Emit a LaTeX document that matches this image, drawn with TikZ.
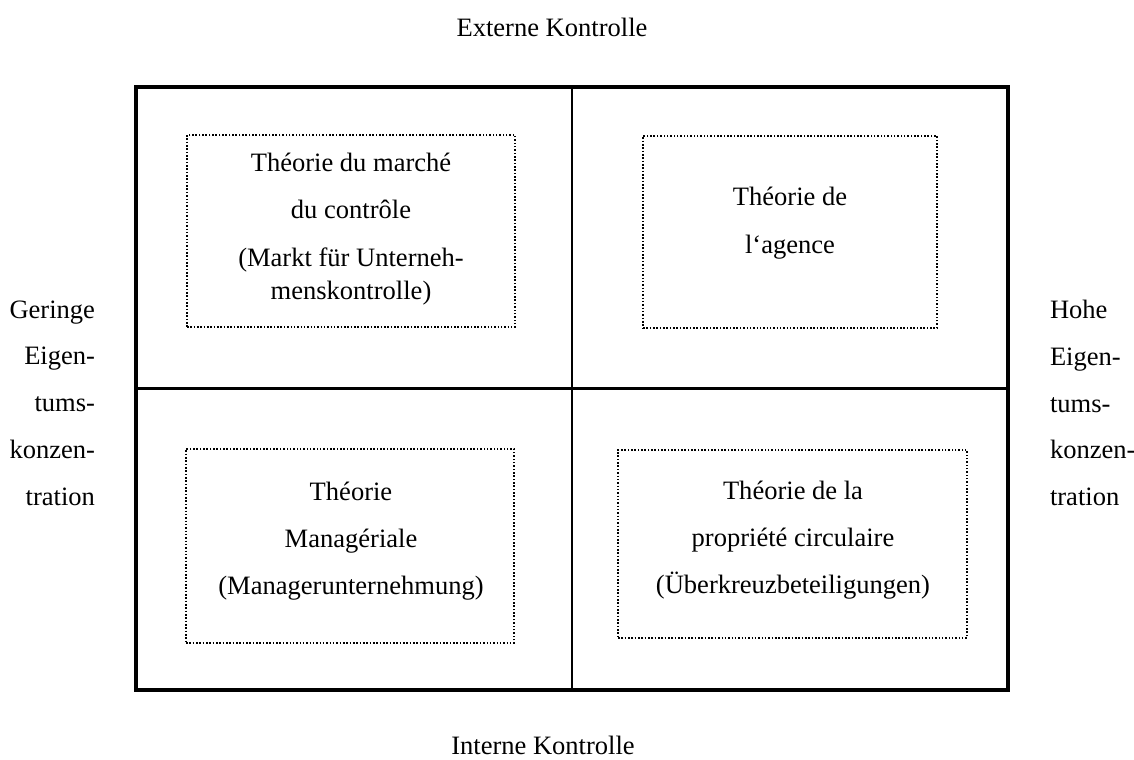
\documentclass[tikz,border=0pt]{standalone}
\usepackage{fontspec}
\setmainfont{Liberation Serif}
\usetikzlibrary{positioning}

\begin{document}
\begin{tikzpicture}[
    x=0.2mm, y=0.2mm,
    every node/.style={font=\fontsize{15.1pt}{26.6pt}\selectfont},
    framebox/.style={
        draw=black, line width=2.8pt, outer sep=0pt, inner sep=0pt,
        minimum width=174.4mm, minimum height=120.6mm
    },
    divider/.style={draw=black, line width=1.4pt},
    theorybox/.style={
        draw=black, densely dotted, line width=0.9pt, inner sep=0pt
    },
    theorytext/.style={align=center, inner sep=0pt},
    sidelabel/.style={inner sep=0pt, outer sep=0pt},
]

\useasboundingbox (0,0) rectangle (1134,760);

% === Frame with four fields ===
\node[framebox] (frame) at (572,371.5) {};
\draw[divider] (frame.north) -- (frame.south);
\draw[divider] (frame.west) -- (frame.east);

% === Theories in the fields ===
\node[theorybox, minimum width=65.6mm, minimum height=38.4mm] (market) at (351,529) {};
\node[theorytext] at (351,531)
    {Théorie du marché\\[0.6pt]du contrôle\\[0.6pt](Markt für Unterneh-\\[-7.9pt]menskontrolle)};

\node[theorybox, minimum width=58.8mm, minimum height=38.4mm] (agency) at (790,528) {};
\node[theorytext] at (790,537) {Théorie de\\[0.6pt]l‘agence};

\node[theorybox, minimum width=65.6mm, minimum height=38.8mm] (managerial) at (350,214) {};
\node[theorytext] at (351,219)
    {Théorie\\Managériale\\(Managerunternehmung)};

\node[theorybox, minimum width=69.8mm, minimum height=37.6mm] (circular) at (792.5,216) {};
\node[theorytext] at (793,220)
    {Théorie de la\\propriété circulaire\\(Überkreuzbeteiligungen)};

% === Axis labels ===
\node[anchor=base] (extern) at (552,723) {Externe Kontrolle};
\node[anchor=base] (intern) at (543,5) {Interne Kontrolle};

\node[sidelabel, align=right, left=8.2mm of frame.west, yshift=-2.9mm] (lowconc)
    {Geringe\\Eigen-\\tums-\\konzen-\\tration};
\node[sidelabel, align=left, right=8.4mm of frame.east, yshift=-2.9mm] (highconc)
    {Hohe\\Eigen-\\tums-\\konzen-\\tration};

\end{tikzpicture}
\end{document}
